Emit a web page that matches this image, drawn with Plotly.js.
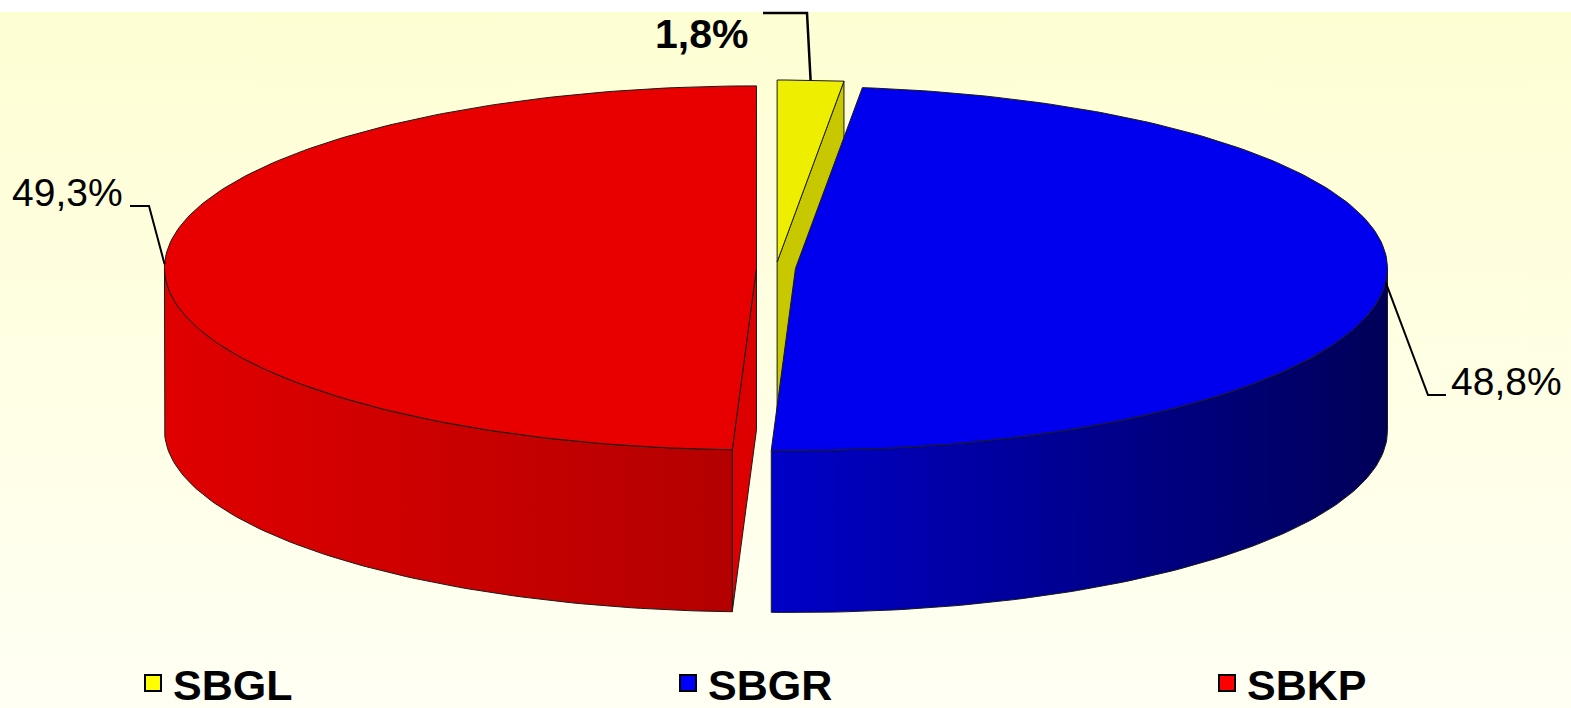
<!DOCTYPE html>
<html><head><meta charset="utf-8">
<script src="https://cdn.plot.ly/plotly-3.0.1.min.js"></script>
<style>
html,body{margin:0;padding:0;background:#fff;}
#chart{width:1571px;height:708px;background:linear-gradient(to bottom,#ffffff 0,#ffffff 12px,#fefed3 12px,#fffff4 708px);}
</style></head><body><div id="chart"></div>
<script>
// ---- data ----
const categories = ['SBGL', 'SBGR', 'SBKP'];
const shares = [1.8, 48.8, 49.3];
const topColors = ['#eeee00', '#0000ee', '#e80000'];
const legendColors = ['#ffff00', '#0000ff', '#ff0000'];
const faceColors = ['#c8c800', '#0000b0', '#dc0000'];
const wallLight = ['#d8d800', '#0000c8', '#e00000'];
const wallDark = ['#909000', '#000058', '#b40000'];

// ---- geometry of the 3D pie (pixel space) ----
const CX = 776, CY = 268, RX = 592, RY = 182, H = 162, PULL = 0.033;
const total = shares.reduce((a, b) => a + b, 0);
const deg = Math.PI / 180;
function pt(c, th, dz) { return [c[0] + RX * Math.sin(th), c[1] - RY * Math.cos(th) + (dz || 0)]; }
function arc(c, a, b, dz) {
  const n = Math.max(2, Math.ceil((b - a) / deg));
  const out = [];
  for (let i = 0; i <= n; i++) out.push(pt(c, a + (b - a) * i / n, dz));
  return out;
}
let acc = 0;
const slices = shares.map((v, i) => {
  const a = acc / total * 2 * Math.PI; acc += v;
  const b = acc / total * 2 * Math.PI; const m = (a + b) / 2;
  const c = [CX + PULL * RX * Math.sin(m), CY - PULL * RY * Math.cos(m)];
  return { i, a, b, m, c };
});

const traces = [];
function poly(pts, color, grp, extra) {
  return Object.assign({
    type: 'scatter', mode: 'lines', x: pts.map(p => p[0]), y: pts.map(p => p[1]),
    fill: 'toself', fillcolor: color, line: { color: '#1a1a1a', width: 1 },
    hoverinfo: 'skip', showlegend: false, legendgroup: grp
  }, extra || {});
}
slices.forEach(s => {
  const { a, b, c, i } = s; const grp = categories[i];
  if (Math.sin(a) < -1e-6) {
    const p = pt(c, a);
    traces.push(poly([c, p, [p[0], p[1] + H], [c[0], c[1] + H], c], faceColors[i], grp));
  }
  if (Math.sin(b) > 1e-6) {
    const p = pt(c, b);
    traces.push(poly([c, p, [p[0], p[1] + H], [c[0], c[1] + H], c], faceColors[i], grp));
  }
  const wa = Math.max(a, Math.PI / 2), wb = Math.min(b, 1.5 * Math.PI);
  if (wb > wa) {
    const top = arc(c, wa, wb, 0), bot = arc(c, wa, wb, H).reverse();
    traces.push(poly(top.concat(bot, [top[0]]), wallLight[i], grp, {
      fillgradient: { type: 'horizontal', colorscale: [[0, wallLight[i]], [1, wallDark[i]]] }
    }));
  }
  traces.push(poly([c].concat(arc(c, a, b, 0), [c]), topColors[i], grp));
});

// ---- labels + leader lines ----
const labelText = shares.map(v => v.toFixed(1).replace('.', ',') + '%');
const labelPos = [[701, 34], [1506, 381], [67, 192]];
const elbows = [[[807, 13], [763, 13]], [[1428, 395], [1446, 395]], [[149, 206], [130, 206]]];
const labelFont = [
  { family: 'Liberation Sans, Arial, sans-serif', size: 41, color: '#000', weight: 'bold' },
  { family: 'Liberation Sans, Arial, sans-serif', size: 39, color: '#000' },
  { family: 'Liberation Sans, Arial, sans-serif', size: 39, color: '#000' }
];
const annotations = [];
slices.forEach(s => {
  const anchor = pt(s.c, s.m);
  const path = [anchor].concat(elbows[s.i]);
  traces.push({ type: 'scatter', mode: 'lines', x: path.map(p => p[0]), y: path.map(p => p[1]),
    line: { color: '#000', width: s.i === 0 ? 2.5 : 2 }, hoverinfo: 'skip', showlegend: false });
  annotations.push({ x: labelPos[s.i][0], y: labelPos[s.i][1], xref: 'x', yref: 'y', text: labelText[s.i],
    showarrow: false, font: labelFont[s.i], xanchor: 'center', yanchor: 'middle' });
});

// legend entries (one legend per category, spaced across the bottom)
const legendIds = ['legend', 'legend2', 'legend3'];
const legendX = [133, 668, 1207];
categories.forEach((cat, i) => {
  traces.push({ type: 'scatter', mode: 'markers', x: [null], y: [null], name: cat, legendgroup: cat,
    legend: legendIds[i],
    marker: { symbol: 'square', size: 16, color: legendColors[i], line: { color: '#000', width: 2 } },
    hoverinfo: 'skip', showlegend: true });
});
function legendCfg(i) {
  return { orientation: 'h', x: legendX[i] / 1571, xanchor: 'left', y: (708 - 683) / 708, yanchor: 'middle',
    bgcolor: 'rgba(0,0,0,0)',
    font: { family: 'Liberation Sans, Arial, sans-serif', size: 43, color: '#000', weight: 'bold' },
    itemclick: false, itemdoubleclick: false };
}

const layout = {
  width: 1571, height: 708,
  margin: { l: 0, r: 0, t: 0, b: 0, autoexpand: false },
  paper_bgcolor: 'rgba(0,0,0,0)', plot_bgcolor: 'rgba(0,0,0,0)',
  xaxis: { range: [0, 1571], visible: false, fixedrange: true },
  yaxis: { range: [708, 0], visible: false, fixedrange: true },
  showlegend: true,
  legend: legendCfg(0), legend2: legendCfg(1), legend3: legendCfg(2),
  annotations: annotations
};
Plotly.newPlot('chart', traces, layout, { displayModeBar: false, staticPlot: true });
</script></body></html>
